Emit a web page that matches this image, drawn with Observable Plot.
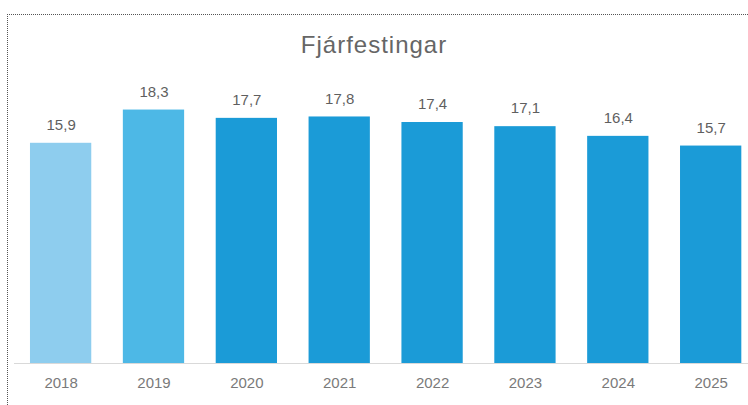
<!DOCTYPE html>
<html>
<head>
<meta charset="utf-8">
<script src="https://cdn.jsdelivr.net/npm/d3@7"></script>
<script src="https://cdn.jsdelivr.net/npm/@observablehq/plot@0.6"></script>
<style>
  html, body { margin: 0; padding: 0; background: #fff; overflow: hidden; }
  body { width: 748px; height: 405px; position: relative; font-family: "Liberation Sans", Arial, sans-serif; }
  #frame { position: absolute; left: 7px; top: 14px; right: -2px; bottom: -2px;
           border-top: 1px dotted #555; border-left: 1px dotted #555; pointer-events: none; }
  #title { height: 70px; box-sizing: border-box; padding-top: 32px; text-align: center;
           font-size: 24px; line-height: 26px; letter-spacing: 1px; color: #666; }
  #chart svg { display: block; }
</style>
</head>
<body>
<div id="title">Fjárfestingar</div>
<div id="chart"></div>
<div id="frame"></div>
<script>
const years = ["2018", "2019", "2020", "2021", "2022", "2023", "2024", "2025"];
const values = [15.9, 18.3, 17.7, 17.8, 17.4, 17.1, 16.4, 15.7];

const data = years.map((year, i) => ({year, value: values[i]}));
const fmt = v => v.toFixed(1).replace(".", ",");

const chart = Plot.plot({
  width: 748,
  height: 335,
  marginLeft: 14,
  marginRight: 0,
  marginTop: 16,
  marginBottom: 42,
  style: {fontFamily: "'Liberation Sans', Arial, sans-serif", background: "transparent"},
  x: {domain: years, paddingInner: 0.34, paddingOuter: 0.122, align: 0.705, round: false, label: null},
  y: {domain: [0, 20], axis: null},
  color: {domain: years, range: ["#8ecdee", "#4db8e6", "#1b9bd7", "#1b9bd7", "#1b9bd7", "#1b9bd7", "#1b9bd7", "#1b9bd7"]},
  marks: [
    Plot.barY(data, {x: "year", y: "value", fill: "year"}),
    Plot.ruleY([0], {stroke: "#d9d9d9", strokeWidth: 1}),
    Plot.text(data, {x: "year", y: "value", text: d => fmt(d.value), dy: -18, fontSize: 15, fill: "#5f5f5f"}),
    Plot.axisX({tickSize: 0, tickPadding: 14, fontSize: 15, color: "#7a7a7a", label: null})
  ]
});
document.getElementById("chart").appendChild(chart);
</script>
</body>
</html>
